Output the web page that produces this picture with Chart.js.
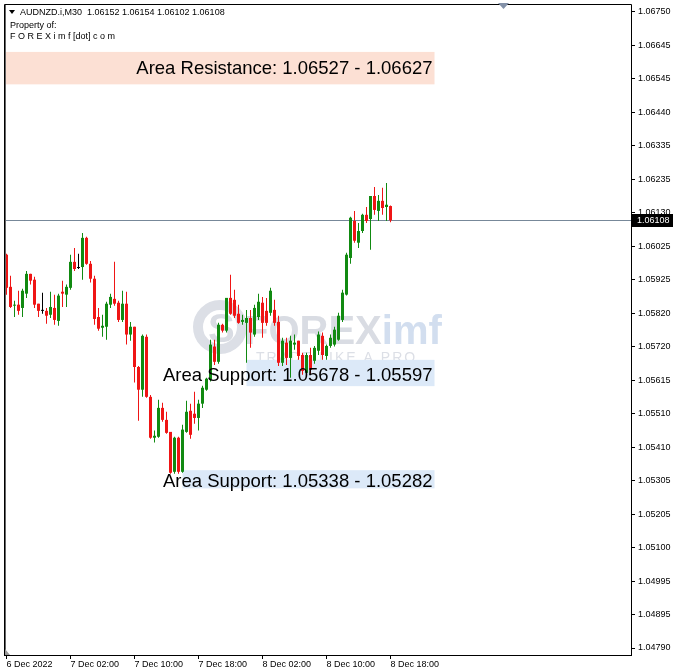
<!DOCTYPE html>
<html><head><meta charset="utf-8">
<script src="https://cdn.jsdelivr.net/npm/chart.js@4.4.0/dist/chart.umd.min.js"></script>
<style>html,body{margin:0;padding:0;background:#fff;overflow:hidden}</style>
</head><body>
<canvas id="c" width="677" height="672"></canvas>
<script>
// ---- DATA (AUDNZD.i, M30, 6 Dec 2022 18:00 .. 8 Dec 2022 18:00) ----
const symbol = 'AUDNZD.i,M30';
const startTime = Date.UTC(2022, 11, 6, 18, 0);   // first bar
const barMinutes = 30;
const opens = [1.06002,1.05903,1.05845,1.05848,1.05838,1.05882,1.05943,1.05925,1.05851,1.05829,
1.05829,1.05817,1.05838,1.05798,1.05888,1.05879,1.05900,1.05980,1.05961,1.05964,
1.06054,1.05974,1.05928,1.05810,1.05777,1.05780,1.05848,1.05866,1.05854,1.05801,
1.05851,1.05756,1.05780,1.05656,1.05586,1.05749,1.05564,1.05438,1.05441,1.05530,
1.05493,1.05456,1.05333,1.05438,1.05333,1.05456,1.05521,1.05512,1.05499,1.05543,
1.05586,1.05617,1.05719,1.05672,1.05786,1.05768,1.05869,1.05863,1.05820,1.05795,
1.05792,1.05807,1.05756,1.05810,1.05854,1.05829,1.05823,1.05832,1.05795,1.05669,
1.05731,1.05684,1.05725,1.05737,1.05693,1.05638,1.05693,1.05675,1.05706,1.05752,
1.05690,1.05721,1.05725,1.05740,1.05801,1.05879,1.05992,1.06106,1.06039,1.06075,
1.06125,1.06112,1.06183,1.06137,1.06168,1.06149,1.06152];
const highs = [1.06005,1.05937,1.05860,1.05891,1.05897,1.05952,1.05943,1.05934,1.05851,1.05885,
1.05838,1.05888,1.05879,1.05882,1.05922,1.05910,1.06002,1.06023,1.06005,1.06069,
1.06057,1.05983,1.05937,1.05838,1.05817,1.05857,1.05882,1.05980,1.05860,1.05891,
1.05888,1.05795,1.05780,1.05659,1.05756,1.05756,1.05570,1.05460,1.05555,1.05546,
1.05518,1.05456,1.05441,1.05441,1.05478,1.05552,1.05543,1.05580,1.05555,1.05598,
1.05623,1.05740,1.05740,1.05792,1.05789,1.05869,1.05940,1.05894,1.05848,1.05817,
1.05832,1.05832,1.05848,1.05882,1.05872,1.05869,1.05900,1.05863,1.05814,1.05746,
1.05746,1.05752,1.05756,1.05737,1.05700,1.05700,1.05715,1.05721,1.05765,1.05762,
1.05725,1.05756,1.05780,1.05823,1.05894,1.06008,1.06119,1.06137,1.06100,1.06128,
1.06149,1.06183,1.06211,1.06186,1.06208,1.06223,1.06154];
const lows = [1.05879,1.05838,1.05810,1.05817,1.05810,1.05869,1.05910,1.05838,1.05810,1.05820,
1.05789,1.05807,1.05786,1.05783,1.05841,1.05841,1.05894,1.05952,1.05958,1.05925,
1.05971,1.05916,1.05786,1.05768,1.05749,1.05740,1.05838,1.05845,1.05795,1.05795,
1.05725,1.05737,1.05608,1.05490,1.05564,1.05561,1.05435,1.05423,1.05438,1.05487,
1.05450,1.05327,1.05327,1.05327,1.05330,1.05453,1.05435,1.05481,1.05460,1.05530,
1.05583,1.05611,1.05662,1.05666,1.05762,1.05762,1.05817,1.05807,1.05789,1.05786,
1.05669,1.05715,1.05749,1.05801,1.05746,1.05783,1.05814,1.05783,1.05659,1.05659,
1.05662,1.05623,1.05709,1.05678,1.05632,1.05632,1.05632,1.05666,1.05693,1.05678,
1.05678,1.05715,1.05719,1.05737,1.05795,1.05876,1.05974,1.06039,1.06023,1.06069,
1.06100,1.06017,1.06125,1.06106,1.06125,1.06106,1.06102];
const closes = [1.05900,1.05841,1.05848,1.05829,1.05891,1.05943,1.05922,1.05848,1.05829,1.05829,
1.05814,1.05841,1.05801,1.05876,1.05882,1.05903,1.05980,1.05958,1.05961,1.06054,
1.05974,1.05928,1.05804,1.05774,1.05783,1.05851,1.05872,1.05851,1.05801,1.05851,
1.05756,1.05780,1.05656,1.05586,1.05752,1.05564,1.05438,1.05444,1.05530,1.05493,
1.05453,1.05330,1.05438,1.05333,1.05463,1.05518,1.05447,1.05499,1.05543,1.05592,
1.05620,1.05725,1.05672,1.05786,1.05768,1.05869,1.05820,1.05814,1.05792,1.05801,
1.05807,1.05762,1.05838,1.05857,1.05792,1.05792,1.05891,1.05792,1.05669,1.05737,
1.05684,1.05737,1.05731,1.05690,1.05644,1.05693,1.05647,1.05715,1.05756,1.05693,
1.05721,1.05746,1.05771,1.05814,1.05885,1.06002,1.06116,1.06045,1.06075,1.06125,
1.06106,1.06183,1.06140,1.06168,1.06146,1.06156,1.06108];

const xTickBars = [0,16,32,48,64,80,96];
const xTickLabels = ['6 Dec 2022','7 Dec 02:00','7 Dec 10:00','7 Dec 18:00','8 Dec 02:00','8 Dec 10:00','8 Dec 18:00'];
const yTickLabels = ['1.06750','1.06645','1.06545','1.06440','1.06335','1.06235','1.06130','1.06025','1.05925','1.05820',
'1.05720','1.05615','1.05510','1.05410','1.05305','1.05205','1.05100','1.04995','1.04895','1.04790'];
const yMin = 1.0476843, yMax = 1.0677157;     // visible price range
const xMin = -0.375, xMax = 156.125;          // visible bar range (with right shift)

const zoneLabels = ['Area Resistance: 1.06527 - 1.06627','Area Support: 1.05678 - 1.05597','Area Support: 1.05338 - 1.05282'];
const zoneTop = [1.06627, 1.05678, 1.05338];
const zoneBottom = [1.06527, 1.05597, 1.05282];
const zoneFromBar = [-1, 60, 44];
const zoneToBar = [107, 107, 107];

// ---- derived ----
const barTimes = opens.map((_, i) => new Date(startTime + i * barMinutes * 60000).toISOString());
const N = opens.length;
const BULL = '#118a11', BEAR = '#ef1515', DOJI = '#000000';
const colors = opens.map((o, i) => closes[i] > o ? BULL : (closes[i] < o ? BEAR : DOJI));
const bodyData = opens.map((o, i) => ({x: i, y: [Math.min(o, closes[i]), Math.max(o, closes[i])]}));
const wickData = opens.map((o, i) => ({x: i, y: [lows[i], highs[i]]}));
const zoneColors = ['#fce0d4', '#dce9f8', '#dce9f8'];
const FONT = '"Liberation Sans", Arial, sans-serif';

const overlay = {
  id: 'overlay',
  beforeDatasetsDraw(chart) {
    const {ctx, chartArea: a, scales: {x, y}} = chart;
    ctx.save();
    ctx.beginPath(); ctx.rect(a.left, a.top, a.right - a.left, a.bottom - a.top); ctx.clip();
    // watermark
    ctx.strokeStyle = '#dcdfe6'; ctx.lineWidth = 10;
    ctx.beginPath(); ctx.arc(220, 327, 22, 0, Math.PI * 2); ctx.stroke();
    ctx.font = 'bold 40px ' + FONT; ctx.textAlign = 'left'; ctx.textBaseline = 'alphabetic';
    ctx.fillStyle = '#d9dce3';
    ctx.fillText('S', 208, 342);
    ctx.fillText('FOREX', 244, 344);
    const w = ctx.measureText('FOREX').width;
    ctx.fillStyle = '#d2deef';
    ctx.fillText('imf', 244 + w, 344);
    ctx.font = '14px ' + FONT; ctx.fillStyle = '#dcdfe6';
    try { ctx.letterSpacing = '2px'; } catch (e) {}
    ctx.fillText('TRADE LIKE A PRO', 256, 362);
    try { ctx.letterSpacing = '0px'; } catch (e) {}
    // zones
    zoneLabels.forEach((t, k) => {
      const x1 = Math.max(a.left, x.getPixelForValue(zoneFromBar[k]));
      const x2 = x.getPixelForValue(zoneToBar[k]);
      const y1 = y.getPixelForValue(zoneTop[k]);
      const y2 = y.getPixelForValue(zoneBottom[k]);
      ctx.fillStyle = zoneColors[k];
      ctx.fillRect(x1, y1, x2 - x1, y2 - y1);
    });
    // bid line
    const py = Math.round(y.getPixelForValue(closes[N - 1])) + 0.5;
    ctx.strokeStyle = '#778899'; ctx.lineWidth = 1;
    ctx.beginPath(); ctx.moveTo(a.left, py); ctx.lineTo(a.right, py); ctx.stroke();
    ctx.restore();
  },
  afterDatasetsDraw(chart) {
    const {ctx, chartArea: a, scales: {x, y}} = chart;
    ctx.save();
    ctx.font = '18.5px ' + FONT; ctx.fillStyle = '#000'; ctx.textAlign = 'right'; ctx.textBaseline = 'middle';
    zoneLabels.forEach((t, k) => {
      const x2 = x.getPixelForValue(zoneToBar[k]);
      const y1 = y.getPixelForValue(zoneTop[k]);
      const y2 = y.getPixelForValue(zoneBottom[k]);
      ctx.fillText(t, x2 - 2, (y1 + y2) / 2 + (k === 0 ? 1 : 3));
    });
    ctx.restore();
  },
  afterDraw(chart) {
    const {ctx, chartArea: a, scales: {y}} = chart;
    ctx.save();
    // frame
    ctx.strokeStyle = '#000'; ctx.lineWidth = 1;
    ctx.beginPath();
    ctx.moveTo(4.5, 4.5); ctx.lineTo(a.right + 0.5, 4.5);
    ctx.moveTo(4.5, 4.5); ctx.lineTo(4.5, a.bottom + 0.5);
    ctx.moveTo(a.right + 0.5, 4.5); ctx.lineTo(a.right + 0.5, a.bottom + 0.5);
    ctx.moveTo(4, a.bottom + 0.5); ctx.lineTo(a.right + 1, a.bottom + 0.5);
    ctx.stroke();
    ctx.strokeStyle = '#666';
    ctx.beginPath(); ctx.moveTo(5.5, 5); ctx.lineTo(5.5, a.bottom); ctx.stroke();
    // header
    ctx.fillStyle = '#000'; ctx.textAlign = 'left'; ctx.textBaseline = 'alphabetic';
    ctx.beginPath(); ctx.moveTo(9, 10); ctx.lineTo(15, 10); ctx.lineTo(12, 14); ctx.closePath(); ctx.fill();
    ctx.font = '9px ' + FONT;
    const L = N - 1;
    ctx.fillText(symbol + '  ' + opens[L].toFixed(5) + ' ' + highs[L].toFixed(5) + ' ' + lows[L].toFixed(5) + ' ' + closes[L].toFixed(5), 20, 15);
    ctx.fillText('Property of:', 10, 28);
    ctx.fillText('F O R E X i m f [dot] c o m', 10, 39);
    // chart shift marker
    ctx.fillStyle = '#8391a8';
    ctx.beginPath(); ctx.moveTo(498, 3); ctx.lineTo(509, 3); ctx.lineTo(503.5, 9); ctx.closePath(); ctx.fill();
    ctx.fillStyle = '#999';
    ctx.beginPath(); ctx.moveTo(5, a.bottom); ctx.lineTo(5, a.bottom - 6); ctx.lineTo(10, a.bottom); ctx.closePath(); ctx.fill();
    // current price label
    const py = Math.round(y.getPixelForValue(closes[L]));
    ctx.fillStyle = '#000';
    ctx.fillRect(a.right + 1, py - 6, 41, 13);
    ctx.fillStyle = '#fff'; ctx.font = '9px ' + FONT; ctx.textBaseline = 'middle';
    ctx.fillText(closes[L].toFixed(5), a.right + 6, py + 1);
    ctx.restore();
  }
};

new Chart(document.getElementById('c'), {
  type: 'bar',
  data: {
    labels: barTimes,
    datasets: [
      {label: 'body', data: bodyData, backgroundColor: colors, barThickness: 3, minBarLength: 1, order: 1},
      {label: 'wick', data: wickData, backgroundColor: colors, barThickness: 1, order: 2}
    ]
  },
  options: {
    responsive: false, animation: false, devicePixelRatio: 1,
    layout: {padding: {left: 5, top: 5, right: 0, bottom: 0}},
    datasets: {bar: {grouped: false, borderWidth: 0, inflateAmount: 0}},
    plugins: {legend: {display: false}, tooltip: {enabled: false}},
    scales: {
      x: {
        type: 'linear', position: 'bottom', min: xMin, max: xMax, offset: false,
        grid: {display: true, drawOnChartArea: false, drawTicks: true, tickLength: 4, color: '#000', offset: false},
        border: {display: false},
        ticks: {autoSkip: false, maxRotation: 0, minRotation: 0, align: 'start', padding: 0, color: '#000',
          font: {family: FONT, size: 9, lineHeight: 1.2},
          callback: (v, i) => xTickLabels[i]},
        afterBuildTicks: s => { s.ticks = xTickBars.map(v => ({value: v})); },
        afterFit: s => { s.height = 17; s.paddingLeft = 0; s.paddingRight = 0; }
      },
      y: {
        type: 'linear', position: 'right', min: yMin, max: yMax,
        grid: {display: true, drawOnChartArea: false, drawTicks: true, tickLength: 4, color: '#000'},
        border: {display: false},
        ticks: {autoSkip: false, padding: 3, color: '#000', font: {family: FONT, size: 9, lineHeight: 1},
          callback: (v, i) => yTickLabels[yTickLabels.length - 1 - i]},
        afterBuildTicks: s => {
          const top = parseFloat(yTickLabels[0]), bot = parseFloat(yTickLabels[yTickLabels.length - 1]);
          const n = yTickLabels.length - 1;
          s.ticks = yTickLabels.map((_, k) => ({value: bot + (top - bot) * k / n}));
        },
        afterFit: s => { s.width = 46; s.paddingTop = 0; s.paddingBottom = 0; }
      }
    }
  },
  plugins: [overlay]
});
</script>
</body></html>
